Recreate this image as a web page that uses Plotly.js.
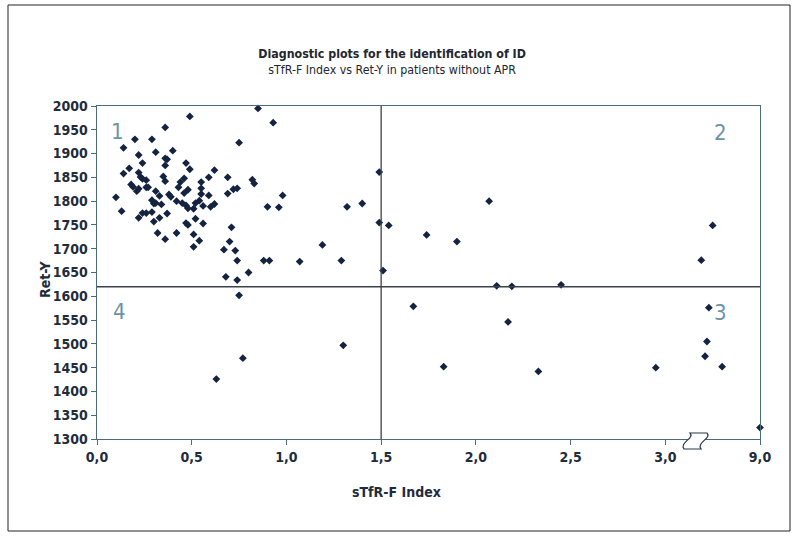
<!DOCTYPE html>
<html>
<head>
<meta charset="utf-8">
<script src="https://cdn.plot.ly/plotly-3.0.1.min.js"></script>
<style>
  html, body { margin: 0; padding: 0; background: #ffffff; }
  #chart { width: 797px; height: 538px; }
</style>
</head>
<body>
<div id="chart"></div>
<script>
// ---- Data (sTfR-F Index, Ret-Y) ----
const sTfRF = [
  0.85, 0.49, 0.93, 0.36, 0.20, 0.29, 0.75, 0.14, 0.31, 0.40,
  0.22, 0.36, 0.37, 0.24, 0.36, 0.47, 0.49, 0.17, 0.14, 0.22,
  0.23, 0.24, 0.26, 0.35, 0.36, 0.46, 0.44, 0.59, 0.62, 0.69,
  0.82, 0.83, 0.18, 0.19, 0.26, 0.27, 0.21, 0.22, 0.31, 0.43,
  0.48, 0.46, 0.55, 0.55, 0.55, 0.72, 0.74, 0.69, 0.10, 0.33,
  0.38, 0.39, 0.59, 0.98, 0.29, 0.30, 0.31, 0.42, 0.45, 0.54,
  0.52, 0.34, 0.47, 0.48, 0.51, 0.56, 0.60, 0.62, 0.90, 0.96,
  0.13, 0.24, 0.26, 0.29, 0.37, 0.22, 0.33, 0.30, 0.52, 0.47,
  0.48, 0.56, 0.32, 0.42, 0.36, 0.51, 0.54, 0.51, 0.71, 0.70,
  0.67, 0.73, 0.74, 0.88, 0.91, 1.07, 1.19, 1.29, 1.32, 1.40,
  0.68, 0.74, 0.80, 0.75, 1.49, 1.49, 1.51, 1.54, 1.74, 1.90,
  2.07, 2.11, 2.19, 2.45, 3.19, 3.25, 0.77, 0.63, 1.30, 1.67,
  1.83, 2.17, 2.33, 2.95, 3.23, 3.22, 3.21, 3.30, 9.0
];
const retY = [
  1995, 1978, 1965, 1955, 1930, 1930, 1923, 1912, 1903, 1906,
  1897, 1890, 1888, 1880, 1875, 1880, 1867, 1869, 1858, 1860,
  1851, 1847, 1844, 1852, 1842, 1848, 1840, 1850, 1865, 1850,
  1845, 1837, 1835, 1830, 1829, 1829, 1821, 1826, 1821, 1829,
  1824, 1817, 1840, 1827, 1815, 1825, 1827, 1816, 1808, 1811,
  1814, 1809, 1812, 1812, 1802, 1795, 1796, 1800, 1796, 1801,
  1796, 1793, 1791, 1785, 1784, 1790, 1788, 1794, 1788, 1787,
  1779, 1775, 1775, 1777, 1774, 1765, 1765, 1757, 1763, 1754,
  1750, 1753, 1733, 1733, 1720, 1730, 1717, 1704, 1745, 1715,
  1698, 1696, 1675, 1675, 1675, 1673, 1708, 1675, 1788, 1795,
  1641, 1634, 1650, 1602, 1861, 1755, 1654, 1749, 1729, 1715,
  1800, 1622, 1621, 1624, 1676, 1749, 1470, 1426, 1497, 1579,
  1452, 1546, 1442, 1450, 1576, 1505, 1474, 1452, 1324
];

// Axis ticks
const xTickVals   = [0, 0.5, 1.0, 1.5, 2.0, 2.5, 3.0, 9.0];
const xTickLabels = ["0,0", "0,5", "1,0", "1,5", "2,0", "2,5", "3,0", "9,0"];
const yTickVals   = [1300, 1350, 1400, 1450, 1500, 1550, 1600, 1650, 1700, 1750, 1800, 1850, 1900, 1950, 2000];

// Quadrant cut-offs
const cutX = 1.5;
const cutY = 1620;
const quadrantLabels = ["1", "2", "3", "4"];

// Broken x axis: everything from 9.0 on is drawn at the slot right after 3.0
const breakFrom = 9.0, breakSlot = 3.5;
const brk = v => (v >= breakFrom ? breakSlot + (v - breakFrom) : v);

const FONT = '"DejaVu Sans Condensed", "Noto Sans", sans-serif';
const INK = '#1f2c3b';
const AXC = '#4b6a7b';

const trace = {
  type: 'scatter',
  mode: 'markers',
  x: sTfRF.map(brk),
  y: retY,
  marker: { symbol: 'diamond', size: 6, color: '#14233f', line: { width: 0 } },
  hoverinfo: 'x+y',
  cliponaxis: false
};

const px2paperX = p => (p - 97) / 663;
const px2paperY = p => (439 - p) / 333;

const layout = {
  width: 797, height: 538,
  margin: { l: 97, r: 37, t: 106, b: 99 },
  paper_bgcolor: '#ffffff',
  plot_bgcolor: '#ffffff',
  showlegend: false,
  font: { family: FONT, color: INK },
  title: {
    text: '<b>Diagnostic plots for the identification of ID</b><br>sTfR-F Index vs Ret-Y in patients without APR',
    font: { family: FONT, size: 12.3, color: '#23262e' },
    xref: 'container', x: 0.492, xanchor: 'center',
    yref: 'container', y: 1 - 58 / 538, yanchor: 'middle'
  },
  xaxis: {
    range: [0, breakSlot],
    tickvals: xTickVals.map(brk),
    ticktext: xTickLabels,
    ticks: 'outside', ticklen: 5, tickwidth: 1, tickcolor: AXC,
    showgrid: false, zeroline: false,
    showline: true, linecolor: AXC, linewidth: 1.3, mirror: true,
    tickfont: { family: FONT, size: 14, color: INK, weight: 'bold' }
  },
  yaxis: {
    range: [1300, 2000],
    tickvals: yTickVals,
    ticktext: yTickVals.map(String),
    ticks: 'outside', ticklen: 5, tickwidth: 1, tickcolor: AXC,
    showgrid: false, zeroline: false,
    showline: true, linecolor: AXC, linewidth: 1.3, mirror: true,
    tickfont: { family: FONT, size: 14, color: INK, weight: 'bold' }
  },
  shapes: [
    { type: 'line', xref: 'x', yref: 'y', x0: cutX, x1: cutX, y0: 1300, y1: 2000,
      line: { color: '#3a4148', width: 1.3 } },
    { type: 'line', xref: 'x', yref: 'y', x0: 0, x1: breakSlot, y0: cutY, y1: cutY,
      line: { color: '#3a4148', width: 1.3 } },
    // axis-break symbol
    { type: 'path', xref: 'paper', yref: 'paper',
      path: 'M ' + px2paperX(690) + ',' + px2paperY(433) +
            ' L ' + px2paperX(707) + ',' + px2paperY(433) +
            ' C ' + px2paperX(712) + ',' + px2paperY(438) + ' ' + px2paperX(696) + ',' + px2paperY(443) + ' ' + px2paperX(701) + ',' + px2paperY(449) +
            ' L ' + px2paperX(684) + ',' + px2paperY(449) +
            ' C ' + px2paperX(679) + ',' + px2paperY(443) + ' ' + px2paperX(695) + ',' + px2paperY(438) + ' ' + px2paperX(690) + ',' + px2paperY(433) + ' Z',
      fillcolor: '#ffffff', line: { color: '#2b3a48', width: 1.2 } },
    // outer frame
    { type: 'rect', xref: 'paper', yref: 'paper',
      x0: px2paperX(8), x1: px2paperX(790), y0: px2paperY(531), y1: px2paperY(5),
      line: { color: '#222222', width: 1 }, fillcolor: 'rgba(0,0,0,0)' }
  ],
  annotations: [
    { text: quadrantLabels[0], xref: 'x', yref: 'y', x: 0.11, y: 1946, showarrow: false,
      font: { family: FONT, size: 22, color: '#6b93a8' } },
    { text: quadrantLabels[1], xref: 'x', yref: 'y', x: 3.29, y: 1944, showarrow: false,
      font: { family: FONT, size: 22, color: '#6b93a8' } },
    { text: quadrantLabels[2], xref: 'x', yref: 'y', x: 3.29, y: 1565, showarrow: false,
      font: { family: FONT, size: 22, color: '#6b93a8' } },
    { text: quadrantLabels[3], xref: 'x', yref: 'y', x: 0.12, y: 1567, showarrow: false,
      font: { family: FONT, size: 22, color: '#6b93a8' } },
    { text: '<b>sTfR-F Index</b>', xref: 'paper', yref: 'paper',
      x: px2paperX(396), y: px2paperY(492), xanchor: 'center', yanchor: 'middle', showarrow: false,
      font: { family: FONT, size: 14, color: INK } },
    { text: '<b>Ret-Y</b>', xref: 'paper', yref: 'paper', textangle: -90,
      x: px2paperX(45), y: px2paperY(280), xanchor: 'center', yanchor: 'middle', showarrow: false,
      font: { family: FONT, size: 14, color: INK } }
  ]
};

Plotly.newPlot('chart', [trace], layout, { displayModeBar: false, staticPlot: true });
</script>
</body>
</html>
